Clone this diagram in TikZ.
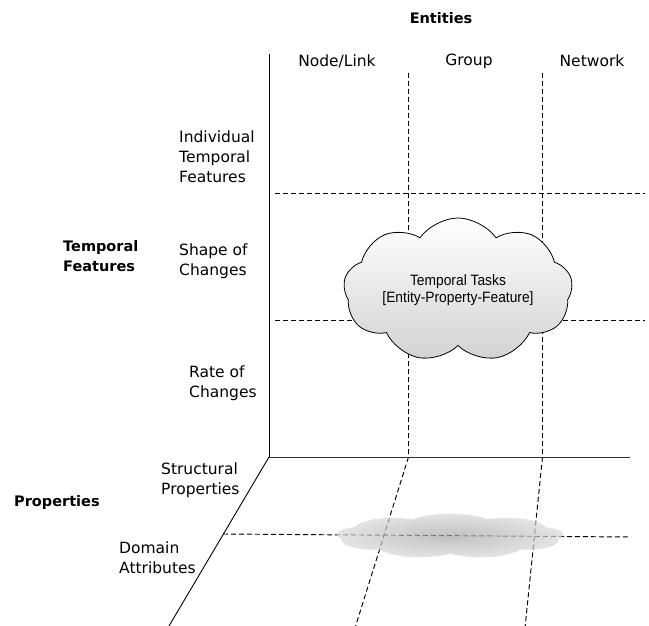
\documentclass[tikz,border=0pt]{standalone}
\usepackage{fontspec}
\setmainfont{DejaVu Sans}
\newfontfamily\taskfont[FakeStretch=0.92]{Liberation Sans}
\usetikzlibrary{shapes.symbols}
\usetikzlibrary{calc}

\begin{document}
\begin{tikzpicture}[x=1pt,y=-1pt]
			\tikzstyle{catval}=[inner sep=0pt, anchor=west, align=left, font=\fontsize{15.5}{20}\selectfont]
			\tikzstyle{heading}=[inner sep=0pt, align=left, font=\bfseries\fontsize{14.5}{20}\selectfont]
			\tikzstyle{axis}=[line width=0.9pt]
			\tikzstyle{gridline}=[line width=0.95pt, dash pattern=on 5pt off 3pt]
			\tikzstyle{task}=[cloud, cloud puffs=9, cloud puff arc=110, cloud ignores aspect, draw=black, line width=0.8pt, top color=white, bottom color=gray!35, minimum width=229, minimum height=144, align=center, font=\taskfont\fontsize{15}{17}\selectfont]
			\tikzstyle{ghost}=[cloud, cloud puffs=9, cloud puff arc=110, cloud ignores aspect, draw=none, inner color=gray!70, outer color=gray!30, fill opacity=0.7, minimum width=228, minimum height=150]
			
			\useasboundingbox (0,0) rectangle (649,626);
			
			\coordinate (origin) at (269,457);
			\coordinate (ytop) at (269,54);
			\coordinate (xend) at (630,457);
			\coordinate (zend) at (169,626);
			
			\coordinate (g1top) at (408.5,73);
			\coordinate (g1mid) at (408.5,457);
			\coordinate (g1bot) at (355,628);
			\coordinate (g2top) at (542.5,73);
			\coordinate (g2mid) at (542.5,457);
			\coordinate (g2bot) at (525,628);
			\coordinate (h1a) at (275,193);
			\coordinate (h1b) at (645,193);
			\coordinate (h2a) at (275,320);
			\coordinate (h2b) at (645,320);
			\coordinate (d1a) at (223,534);
			\coordinate (d1b) at (631,537);
			
			\draw [gridline]  (g1top) to (g1mid) to (g1bot);
			\draw [gridline]  (g2top) to (g2mid) to (g2bot);
			\draw [gridline]  (h1a) to (h1b);
			\draw [gridline]  (h2a) to (h2b);
			\draw [gridline]  (d1a) to (d1b);
			
			\draw [axis]  (origin) to (ytop);
			\draw [axis, gray!40!black]  (origin) to (xend);
			\draw [axis]  (origin) to (zend);
			
			\draw node at (458,290) [task] (tasks) {Temporal Tasks\\{[Entity-Property-Feature]}};
			\begin{scope}[shift={(450,536)}, yscale=0.3]
			\node at (0,0) [ghost, transform shape] (reflection) {};  % the cloud's shadow on the floor
			\end{scope}
			
			\draw node at (441,18) [heading] (entities) {Entities};
			\draw node at (337,61) [catval, anchor=center] (nodelink) {Node/Link};
			\draw node at (469,61) [catval, anchor=center] (group) {Group};
			\draw node at (592,61) [catval, anchor=center] (network) {Network};
			
			\draw node at (63,256) [heading, anchor=west] (temporal) {Temporal\\Features};
			\draw node at (179,157) [catval] (individual) {Individual\\Temporal\\Features};
			\draw node at (179,261) [catval] (shape) {Shape of\\Changes};
			\draw node at (189,383) [catval] (rate) {Rate of\\Changes};
			
			\draw node at (14,502) [heading, anchor=west] (properties) {Properties};
			\draw node at (161,480) [catval] (structural) {Structural\\Properties};
			\draw node at (119,558) [catval] (domain) {Domain\\Attributes};
\end{tikzpicture}
\end{document}
